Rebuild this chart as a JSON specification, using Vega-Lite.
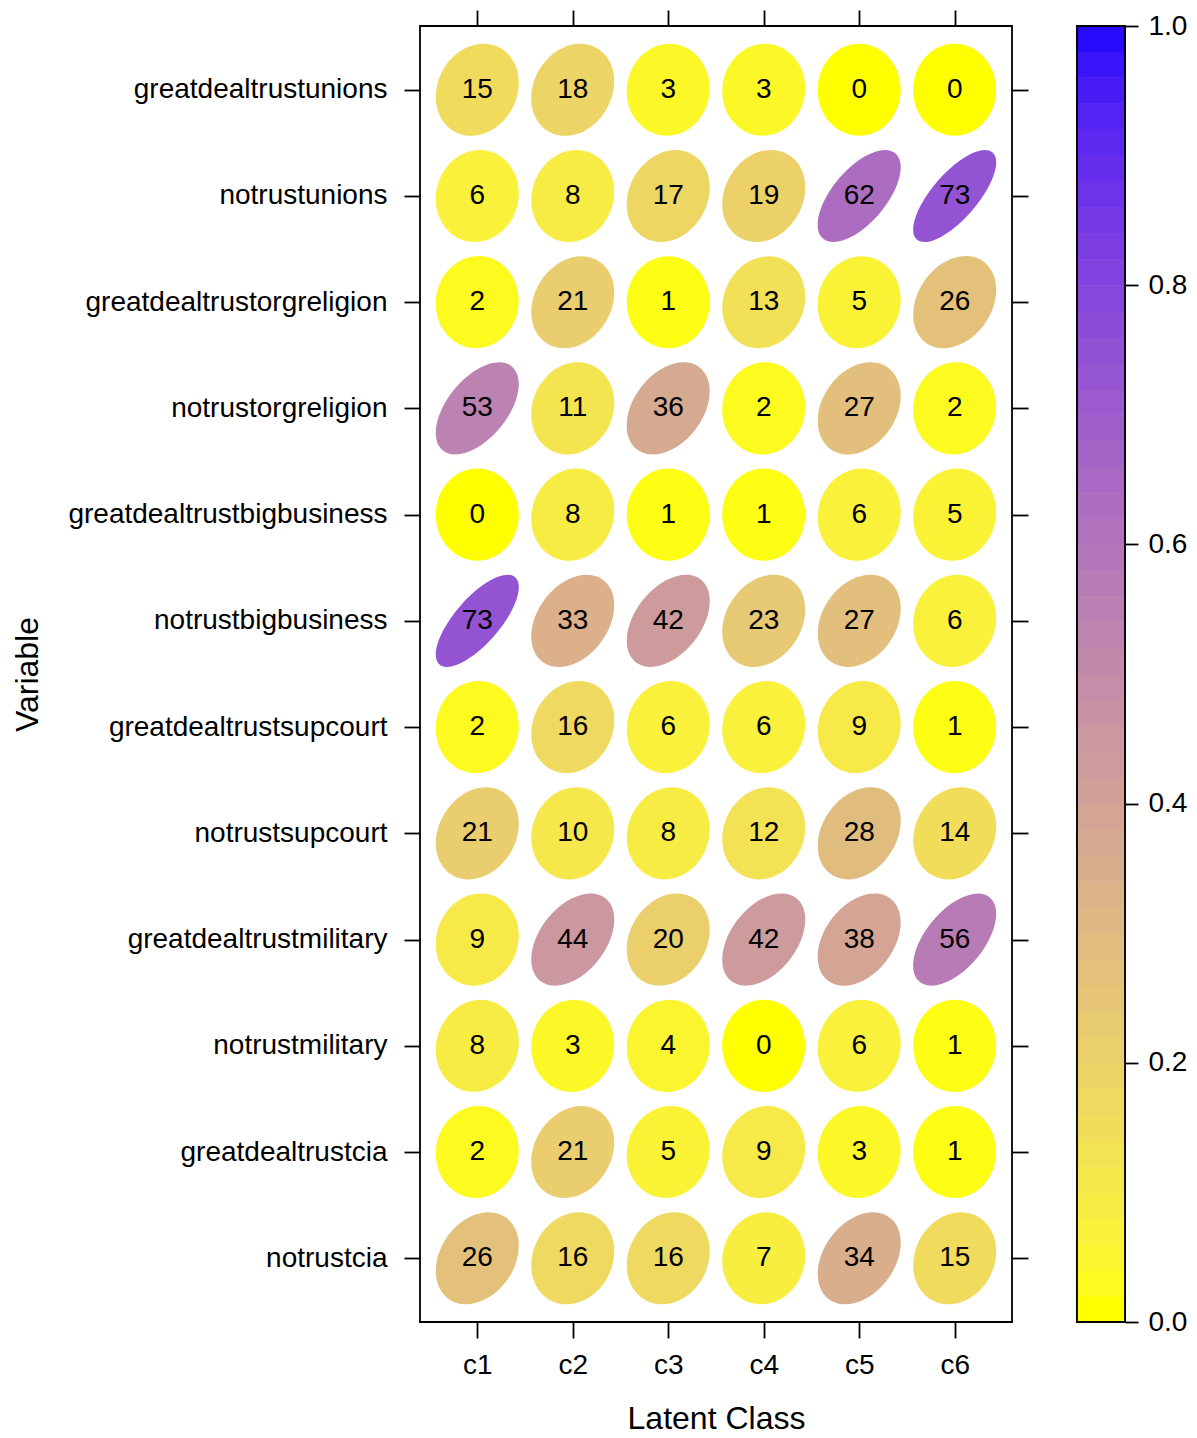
{
  "$schema": "https://vega.github.io/schema/vega-lite/v6.json",
  "padding": {"left": 10, "top": 8, "right": 5, "bottom": 5},
  "background": "white",
  "bounds": "flush",
  "spacing": 65,
  "config": {
    "view": {"stroke": "#000000", "strokeWidth": 1.8},
    "font": "Liberation Sans",
    "axis": {"domain": false, "grid": false, "tickColor": "#000000", "tickWidth": 1.8, "labelColor": "#000000", "titleColor": "#000000", "labelFont": "Liberation Sans", "titleFont": "Liberation Sans", "titleFontWeight": "normal", "labelFontSize": 28, "titleFontSize": 32, "labelLimit": 450}
  },
  "datasets": {
    "cells": [
      {"var": "greatdealtrustunions", "cls": "c1", "v": 15}, {"var": "greatdealtrustunions", "cls": "c2", "v": 18}, {"var": "greatdealtrustunions", "cls": "c3", "v": 3}, {"var": "greatdealtrustunions", "cls": "c4", "v": 3}, {"var": "greatdealtrustunions", "cls": "c5", "v": 0}, {"var": "greatdealtrustunions", "cls": "c6", "v": 0},
      {"var": "notrustunions", "cls": "c1", "v": 6}, {"var": "notrustunions", "cls": "c2", "v": 8}, {"var": "notrustunions", "cls": "c3", "v": 17}, {"var": "notrustunions", "cls": "c4", "v": 19}, {"var": "notrustunions", "cls": "c5", "v": 62}, {"var": "notrustunions", "cls": "c6", "v": 73},
      {"var": "greatdealtrustorgreligion", "cls": "c1", "v": 2}, {"var": "greatdealtrustorgreligion", "cls": "c2", "v": 21}, {"var": "greatdealtrustorgreligion", "cls": "c3", "v": 1}, {"var": "greatdealtrustorgreligion", "cls": "c4", "v": 13}, {"var": "greatdealtrustorgreligion", "cls": "c5", "v": 5}, {"var": "greatdealtrustorgreligion", "cls": "c6", "v": 26},
      {"var": "notrustorgreligion", "cls": "c1", "v": 53}, {"var": "notrustorgreligion", "cls": "c2", "v": 11}, {"var": "notrustorgreligion", "cls": "c3", "v": 36}, {"var": "notrustorgreligion", "cls": "c4", "v": 2}, {"var": "notrustorgreligion", "cls": "c5", "v": 27}, {"var": "notrustorgreligion", "cls": "c6", "v": 2},
      {"var": "greatdealtrustbigbusiness", "cls": "c1", "v": 0}, {"var": "greatdealtrustbigbusiness", "cls": "c2", "v": 8}, {"var": "greatdealtrustbigbusiness", "cls": "c3", "v": 1}, {"var": "greatdealtrustbigbusiness", "cls": "c4", "v": 1}, {"var": "greatdealtrustbigbusiness", "cls": "c5", "v": 6}, {"var": "greatdealtrustbigbusiness", "cls": "c6", "v": 5},
      {"var": "notrustbigbusiness", "cls": "c1", "v": 73}, {"var": "notrustbigbusiness", "cls": "c2", "v": 33}, {"var": "notrustbigbusiness", "cls": "c3", "v": 42}, {"var": "notrustbigbusiness", "cls": "c4", "v": 23}, {"var": "notrustbigbusiness", "cls": "c5", "v": 27}, {"var": "notrustbigbusiness", "cls": "c6", "v": 6},
      {"var": "greatdealtrustsupcourt", "cls": "c1", "v": 2}, {"var": "greatdealtrustsupcourt", "cls": "c2", "v": 16}, {"var": "greatdealtrustsupcourt", "cls": "c3", "v": 6}, {"var": "greatdealtrustsupcourt", "cls": "c4", "v": 6}, {"var": "greatdealtrustsupcourt", "cls": "c5", "v": 9}, {"var": "greatdealtrustsupcourt", "cls": "c6", "v": 1},
      {"var": "notrustsupcourt", "cls": "c1", "v": 21}, {"var": "notrustsupcourt", "cls": "c2", "v": 10}, {"var": "notrustsupcourt", "cls": "c3", "v": 8}, {"var": "notrustsupcourt", "cls": "c4", "v": 12}, {"var": "notrustsupcourt", "cls": "c5", "v": 28}, {"var": "notrustsupcourt", "cls": "c6", "v": 14},
      {"var": "greatdealtrustmilitary", "cls": "c1", "v": 9}, {"var": "greatdealtrustmilitary", "cls": "c2", "v": 44}, {"var": "greatdealtrustmilitary", "cls": "c3", "v": 20}, {"var": "greatdealtrustmilitary", "cls": "c4", "v": 42}, {"var": "greatdealtrustmilitary", "cls": "c5", "v": 38}, {"var": "greatdealtrustmilitary", "cls": "c6", "v": 56},
      {"var": "notrustmilitary", "cls": "c1", "v": 8}, {"var": "notrustmilitary", "cls": "c2", "v": 3}, {"var": "notrustmilitary", "cls": "c3", "v": 4}, {"var": "notrustmilitary", "cls": "c4", "v": 0}, {"var": "notrustmilitary", "cls": "c5", "v": 6}, {"var": "notrustmilitary", "cls": "c6", "v": 1},
      {"var": "greatdealtrustcia", "cls": "c1", "v": 2}, {"var": "greatdealtrustcia", "cls": "c2", "v": 21}, {"var": "greatdealtrustcia", "cls": "c3", "v": 5}, {"var": "greatdealtrustcia", "cls": "c4", "v": 9}, {"var": "greatdealtrustcia", "cls": "c5", "v": 3}, {"var": "greatdealtrustcia", "cls": "c6", "v": 1},
      {"var": "notrustcia", "cls": "c1", "v": 26}, {"var": "notrustcia", "cls": "c2", "v": 16}, {"var": "notrustcia", "cls": "c3", "v": 16}, {"var": "notrustcia", "cls": "c4", "v": 7}, {"var": "notrustcia", "cls": "c5", "v": 34}, {"var": "notrustcia", "cls": "c6", "v": 15}
    ],
    "bar": [
      {"lo": 0, "hi": 2}, {"lo": 2, "hi": 4}, {"lo": 4, "hi": 6}, {"lo": 6, "hi": 8}, {"lo": 8, "hi": 10},
      {"lo": 10, "hi": 12}, {"lo": 12, "hi": 14}, {"lo": 14, "hi": 16}, {"lo": 16, "hi": 18}, {"lo": 18, "hi": 20},
      {"lo": 20, "hi": 22}, {"lo": 22, "hi": 24}, {"lo": 24, "hi": 26}, {"lo": 26, "hi": 28}, {"lo": 28, "hi": 30},
      {"lo": 30, "hi": 32}, {"lo": 32, "hi": 34}, {"lo": 34, "hi": 36}, {"lo": 36, "hi": 38}, {"lo": 38, "hi": 40},
      {"lo": 40, "hi": 42}, {"lo": 42, "hi": 44}, {"lo": 44, "hi": 46}, {"lo": 46, "hi": 48}, {"lo": 48, "hi": 50},
      {"lo": 50, "hi": 52}, {"lo": 52, "hi": 54}, {"lo": 54, "hi": 56}, {"lo": 56, "hi": 58}, {"lo": 58, "hi": 60},
      {"lo": 60, "hi": 62}, {"lo": 62, "hi": 64}, {"lo": 64, "hi": 66}, {"lo": 66, "hi": 68}, {"lo": 68, "hi": 70},
      {"lo": 70, "hi": 72}, {"lo": 72, "hi": 74}, {"lo": 74, "hi": 76}, {"lo": 76, "hi": 78}, {"lo": 78, "hi": 80},
      {"lo": 80, "hi": 82}, {"lo": 82, "hi": 84}, {"lo": 84, "hi": 86}, {"lo": 86, "hi": 88}, {"lo": 88, "hi": 90},
      {"lo": 90, "hi": 92}, {"lo": 92, "hi": 94}, {"lo": 94, "hi": 96}, {"lo": 96, "hi": 98}, {"lo": 98, "hi": 100}
    ]
  },
  "hconcat": [
    {
      "width": 592,
      "height": 1296,
      "data": {"name": "cells"},
      "layer": [
        {
          "mark": {"type": "point", "filled": true, "opacity": 1, "size": 6889, "strokeWidth": 0},
          "encoding": {
            "x": {"field": "cls", "type": "nominal", "sort": ["c1", "c2", "c3", "c4", "c5", "c6"], "scale": {"type": "point", "padding": 0.6},
                  "axis": {"orient": "bottom", "title": "Latent Class", "tickSize": 16, "labelPadding": 13, "labelAngle": 0, "titlePadding": 24}},
            "y": {"field": "var", "type": "nominal", "sort": ["greatdealtrustunions", "notrustunions", "greatdealtrustorgreligion", "notrustorgreligion", "greatdealtrustbigbusiness", "notrustbigbusiness", "greatdealtrustsupcourt", "notrustsupcourt", "greatdealtrustmilitary", "notrustmilitary", "greatdealtrustcia", "notrustcia"], "scale": {"type": "point", "padding": 0.6},
                  "axis": {"orient": "left", "title": "Variable", "tickSize": 16, "labelPadding": 17, "labelLimit": 450, "titleX": -383, "titleY": 648, "titleAngle": 270, "titleBaseline": "alphabetic", "titleAlign": "center"}},
            "color": {"field": "v", "type": "quantitative", "scale": {"domain": [0, 100], "range": ["#ffff00", "#0000ff"], "interpolate": "lab"}, "legend": null},
            "shape": {"field": "v", "type": "ordinal", "legend": null, "scale": {
              "domain": [0, 1, 2, 3, 4, 5, 6, 7, 8, 9, 10, 11, 12, 13, 14, 15, 16, 17, 18, 19, 20, 21, 23, 26, 27, 28, 33, 34, 36, 38, 42, 44, 53, 56, 62, 73],
              "range": [
                "M0.707,-0.785C0.317,-1.218,-0.317,-1.218,-0.707,-0.785C-1.098,-0.351,-1.098,0.351,-0.707,0.785C-0.317,1.218,0.317,1.218,0.707,0.785C1.098,0.351,1.098,-0.351,0.707,-0.785Z",
                "M0.707,-0.785C0.317,-1.218,-0.317,-1.218,-0.707,-0.785C-1.098,-0.351,-1.098,0.351,-0.707,0.785C-0.317,1.218,0.317,1.218,0.707,0.785C1.098,0.351,1.098,-0.351,0.707,-0.785Z",
                "M0.718,-0.797C0.333,-1.224,-0.300,-1.213,-0.696,-0.773C-1.093,-0.333,-1.102,0.370,-0.718,0.797C-0.333,1.224,0.300,1.213,0.696,0.773C1.093,0.333,1.102,-0.370,0.718,-0.797Z",
                "M0.718,-0.797C0.333,-1.224,-0.300,-1.213,-0.696,-0.773C-1.093,-0.333,-1.102,0.370,-0.718,0.797C-0.333,1.224,0.300,1.213,0.696,0.773C1.093,0.333,1.102,-0.370,0.718,-0.797Z",
                "M0.718,-0.797C0.333,-1.224,-0.300,-1.213,-0.696,-0.773C-1.093,-0.333,-1.102,0.370,-0.718,0.797C-0.333,1.224,0.300,1.213,0.696,0.773C1.093,0.333,1.102,-0.370,0.718,-0.797Z",
                "M0.728,-0.808C0.349,-1.228,-0.284,-1.207,-0.686,-0.761C-1.088,-0.315,-1.107,0.388,-0.728,0.808C-0.349,1.228,0.284,1.207,0.686,0.761C1.088,0.315,1.107,-0.388,0.728,-0.808Z",
                "M0.728,-0.808C0.349,-1.228,-0.284,-1.207,-0.686,-0.761C-1.088,-0.315,-1.107,0.388,-0.728,0.808C-0.349,1.228,0.284,1.207,0.686,0.761C1.088,0.315,1.107,-0.388,0.728,-0.808Z",
                "M0.728,-0.808C0.349,-1.228,-0.284,-1.207,-0.686,-0.761C-1.088,-0.315,-1.107,0.388,-0.728,0.808C-0.349,1.228,0.284,1.207,0.686,0.761C1.088,0.315,1.107,-0.388,0.728,-0.808Z",
                "M0.738,-0.819C0.366,-1.233,-0.267,-1.201,-0.675,-0.749C-1.082,-0.296,-1.111,0.406,-0.738,0.819C-0.366,1.233,0.267,1.201,0.675,0.749C1.082,0.296,1.111,-0.406,0.738,-0.819Z",
                "M0.738,-0.819C0.366,-1.233,-0.267,-1.201,-0.675,-0.749C-1.082,-0.296,-1.111,0.406,-0.738,0.819C-0.366,1.233,0.267,1.201,0.675,0.749C1.082,0.296,1.111,-0.406,0.738,-0.819Z",
                "M0.738,-0.819C0.366,-1.233,-0.267,-1.201,-0.675,-0.749C-1.082,-0.296,-1.111,0.406,-0.738,0.819C-0.366,1.233,0.267,1.201,0.675,0.749C1.082,0.296,1.111,-0.406,0.738,-0.819Z",
                "M0.748,-0.831C0.382,-1.237,-0.250,-1.195,-0.663,-0.736C-1.077,-0.278,-1.115,0.424,-0.748,0.831C-0.382,1.237,0.250,1.195,0.663,0.736C1.077,0.278,1.115,-0.424,0.748,-0.831Z",
                "M0.748,-0.831C0.382,-1.237,-0.250,-1.195,-0.663,-0.736C-1.077,-0.278,-1.115,0.424,-0.748,0.831C-0.382,1.237,0.250,1.195,0.663,0.736C1.077,0.278,1.115,-0.424,0.748,-0.831Z",
                "M0.748,-0.831C0.382,-1.237,-0.250,-1.195,-0.663,-0.736C-1.077,-0.278,-1.115,0.424,-0.748,0.831C-0.382,1.237,0.250,1.195,0.663,0.736C1.077,0.278,1.115,-0.424,0.748,-0.831Z",
                "M0.758,-0.842C0.398,-1.241,-0.233,-1.188,-0.652,-0.724C-1.071,-0.259,-1.118,0.442,-0.758,0.842C-0.398,1.241,0.233,1.188,0.652,0.724C1.071,0.259,1.118,-0.442,0.758,-0.842Z",
                "M0.758,-0.842C0.398,-1.241,-0.233,-1.188,-0.652,-0.724C-1.071,-0.259,-1.118,0.442,-0.758,0.842C-0.398,1.241,0.233,1.188,0.652,0.724C1.071,0.259,1.118,-0.442,0.758,-0.842Z",
                "M0.758,-0.842C0.398,-1.241,-0.233,-1.188,-0.652,-0.724C-1.071,-0.259,-1.118,0.442,-0.758,0.842C-0.398,1.241,0.233,1.188,0.652,0.724C1.071,0.259,1.118,-0.442,0.758,-0.842Z",
                "M0.768,-0.853C0.415,-1.245,-0.216,-1.182,-0.640,-0.711C-1.065,-0.240,-1.122,0.460,-0.768,0.853C-0.415,1.245,0.216,1.182,0.640,0.711C1.065,0.240,1.122,-0.460,0.768,-0.853Z",
                "M0.768,-0.853C0.415,-1.245,-0.216,-1.182,-0.640,-0.711C-1.065,-0.240,-1.122,0.460,-0.768,0.853C-0.415,1.245,0.216,1.182,0.640,0.711C1.065,0.240,1.122,-0.460,0.768,-0.853Z",
                "M0.768,-0.853C0.415,-1.245,-0.216,-1.182,-0.640,-0.711C-1.065,-0.240,-1.122,0.460,-0.768,0.853C-0.415,1.245,0.216,1.182,0.640,0.711C1.065,0.240,1.122,-0.460,0.768,-0.853Z",
                "M0.778,-0.863C0.431,-1.249,-0.199,-1.174,-0.628,-0.698C-1.058,-0.221,-1.125,0.478,-0.778,0.863C-0.431,1.249,0.199,1.174,0.628,0.698C1.058,0.221,1.125,-0.478,0.778,-0.863Z",
                "M0.778,-0.863C0.431,-1.249,-0.199,-1.174,-0.628,-0.698C-1.058,-0.221,-1.125,0.478,-0.778,0.863C-0.431,1.249,0.199,1.174,0.628,0.698C1.058,0.221,1.125,-0.478,0.778,-0.863Z",
                "M0.787,-0.874C0.447,-1.252,-0.182,-1.167,-0.616,-0.684C-1.051,-0.202,-1.128,0.496,-0.787,0.874C-0.447,1.252,0.182,1.167,0.616,0.684C1.051,0.202,1.128,-0.496,0.787,-0.874Z",
                "M0.797,-0.885C0.463,-1.255,-0.164,-1.159,-0.604,-0.671C-1.044,-0.182,-1.131,0.514,-0.797,0.885C-0.463,1.255,0.164,1.159,0.604,0.671C1.044,0.182,1.131,-0.514,0.797,-0.885Z",
                "M0.797,-0.885C0.463,-1.255,-0.164,-1.159,-0.604,-0.671C-1.044,-0.182,-1.131,0.514,-0.797,0.885C-0.463,1.255,0.164,1.159,0.604,0.671C1.044,0.182,1.131,-0.514,0.797,-0.885Z",
                "M0.797,-0.885C0.463,-1.255,-0.164,-1.159,-0.604,-0.671C-1.044,-0.182,-1.131,0.514,-0.797,0.885C-0.463,1.255,0.164,1.159,0.604,0.671C1.044,0.182,1.131,-0.514,0.797,-0.885Z",
                "M0.817,-0.907C0.499,-1.260,-0.125,-1.141,-0.577,-0.640C-1.028,-0.139,-1.136,0.553,-0.817,0.907C-0.499,1.260,0.125,1.141,0.577,0.640C1.028,0.139,1.136,-0.553,0.817,-0.907Z",
                "M0.817,-0.907C0.499,-1.260,-0.125,-1.141,-0.577,-0.640C-1.028,-0.139,-1.136,0.553,-0.817,0.907C-0.499,1.260,0.125,1.141,0.577,0.640C1.028,0.139,1.136,-0.553,0.817,-0.907Z",
                "M0.828,-0.919C0.518,-1.263,-0.104,-1.130,-0.561,-0.623C-1.018,-0.116,-1.138,0.575,-0.828,0.919C-0.518,1.263,0.104,1.130,0.561,0.623C1.018,0.116,1.138,-0.575,0.828,-0.919Z",
                "M0.828,-0.919C0.518,-1.263,-0.104,-1.130,-0.561,-0.623C-1.018,-0.116,-1.138,0.575,-0.828,0.919C-0.518,1.263,0.104,1.130,0.561,0.623C1.018,0.116,1.138,-0.575,0.828,-0.919Z",
                "M0.846,-0.939C0.551,-1.266,-0.067,-1.111,-0.534,-0.593C-1.001,-0.074,-1.140,0.611,-0.846,0.939C-0.551,1.266,0.067,1.111,0.534,0.593C1.001,0.074,1.140,-0.611,0.846,-0.939Z",
                "M0.846,-0.939C0.551,-1.266,-0.067,-1.111,-0.534,-0.593C-1.001,-0.074,-1.140,0.611,-0.846,0.939C-0.551,1.266,0.067,1.111,0.534,0.593C1.001,0.074,1.140,-0.611,0.846,-0.939Z",
                "M0.875,-0.971C0.607,-1.268,-0.002,-1.074,-0.485,-0.538C-0.968,-0.002,-1.142,0.674,-0.875,0.971C-0.607,1.268,0.002,1.074,0.485,0.538C0.968,0.002,1.142,-0.674,0.875,-0.971Z",
                "M0.883,-0.980C0.624,-1.268,0.019,-1.062,-0.469,-0.521C-0.957,0.021,-1.142,0.693,-0.883,0.980C-0.624,1.268,-0.019,1.062,0.469,0.521C0.957,-0.021,1.142,-0.693,0.883,-0.980Z",
                "M0.900,-0.999C0.659,-1.266,0.061,-1.036,-0.436,-0.484C-0.933,0.068,-1.141,0.732,-0.900,0.999C-0.659,1.266,-0.061,1.036,0.436,0.484C0.933,-0.068,1.141,-0.732,0.900,-0.999Z",
                "M0.930,-1.032C0.727,-1.258,0.146,-0.978,-0.367,-0.408C-0.881,0.162,-1.133,0.807,-0.930,1.032C-0.727,1.258,-0.146,0.978,0.367,0.408C0.881,-0.162,1.133,-0.807,0.930,-1.032Z"
              ]}}
          }
        },
        {
          "mark": {"type": "text", "fontSize": 28, "font": "Liberation Sans", "color": "#000000", "baseline": "middle", "align": "center"},
          "encoding": {
            "x": {"field": "cls", "type": "nominal", "sort": ["c1", "c2", "c3", "c4", "c5", "c6"], "scale": {"type": "point", "padding": 0.6},
                  "axis": {"orient": "top", "title": null, "labels": false, "tickSize": 16}},
            "y": {"field": "var", "type": "nominal", "sort": ["greatdealtrustunions", "notrustunions", "greatdealtrustorgreligion", "notrustorgreligion", "greatdealtrustbigbusiness", "notrustbigbusiness", "greatdealtrustsupcourt", "notrustsupcourt", "greatdealtrustmilitary", "notrustmilitary", "greatdealtrustcia", "notrustcia"], "scale": {"type": "point", "padding": 0.6},
                  "axis": {"orient": "right", "title": null, "labels": false, "tickSize": 16}},
            "text": {"field": "v", "type": "quantitative"}
          }
        }
      ],
      "resolve": {"axis": {"x": "independent", "y": "independent"}}
    },
    {
      "width": 48,
      "height": 1296,
      "layer": [
        {
          "data": {"name": "bar"},
          "mark": {"type": "rect", "strokeWidth": 0.6},
          "encoding": {
            "y": {"field": "lo", "type": "quantitative", "scale": {"domain": [0, 100], "nice": false, "zero": false},
                  "axis": {"orient": "right", "title": null, "values": [0, 20, 40, 60, 80, 100], "labelExpr": "format(datum.value / 100, '.1f')", "tickSize": 13, "labelPadding": 10}},
            "y2": {"field": "hi"},
            "color": {"field": "lo", "type": "quantitative", "scale": {"domain": [0, 100], "range": ["#ffff00", "#0000ff"], "interpolate": "lab"}, "legend": null},
            "stroke": {"field": "lo", "type": "quantitative", "scale": {"domain": [0, 100], "range": ["#ffff00", "#0000ff"], "interpolate": "lab"}, "legend": null}
          }
        },
        {
          "data": {"values": [{}]},
          "mark": {"type": "rect", "fill": null, "filled": false, "stroke": "#000000", "strokeWidth": 1.8},
          "encoding": {}
        }
      ]
    }
  ]
}
